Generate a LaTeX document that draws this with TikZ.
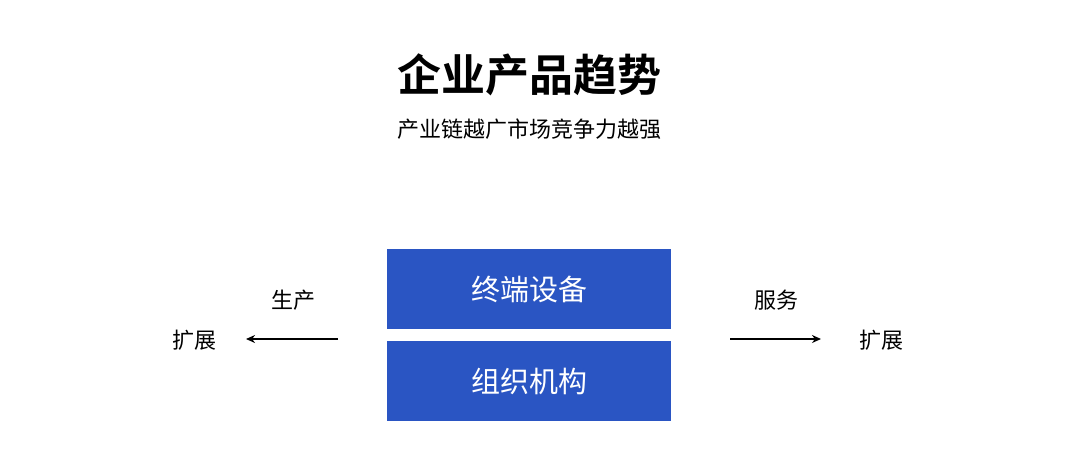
\documentclass[tikz,border=0pt]{standalone}
\usepackage{fontspec}
\setmainfont{Noto Sans CJK SC}
\newfontfamily\cjkbold{Noto Sans CJK SC Bold}
\usetikzlibrary{arrows.meta}
\definecolor{boxblue}{HTML}{2A55C3}
\tikzset{
  blockbox/.style={fill=boxblue, text=white, minimum width=284pt, minimum height=80pt,
    inner sep=0pt, font=\fontsize{29}{29}\selectfont},
  sidelabel/.style={inner sep=0pt, font=\fontsize{22}{22}\selectfont},
  flow/.style={-{Stealth[length=9pt,width=8pt]}, line width=1.8pt}
}
\begin{document}
\begin{tikzpicture}[x=1pt,y=-1pt]
  \useasboundingbox (0,0) rectangle (1080,469);
  \draw
    (529,75) node[inner sep=0pt, font=\cjkbold\fontsize{44}{44}\selectfont] (title){企业产品趋势}
    (529,129) node[inner sep=0pt, font=\fontsize{22}{22}\selectfont] (subtitle){产业链越广市场竞争力越强}
    (529,289) node[blockbox] (terminal){终端设备}
    (529,381) node[blockbox] (org){组织机构}
    (293,300) node[sidelabel] (produce){生产}
    (194,340) node[sidelabel] (leftext){扩展}
    (776,300) node[sidelabel] (service){服务}
    (881,340) node[sidelabel] (rightext){扩展};
  \coordinate (lstart) at (338,339);
  \coordinate (lend) at (246,339);
  \coordinate (rstart) at (730,339);
  \coordinate (rend) at (821,339);
  \begin{scope}[flow]
    \draw (lstart) to (lend);
    \draw (rstart) to (rend);
  \end{scope}
\end{tikzpicture}
\end{document}
